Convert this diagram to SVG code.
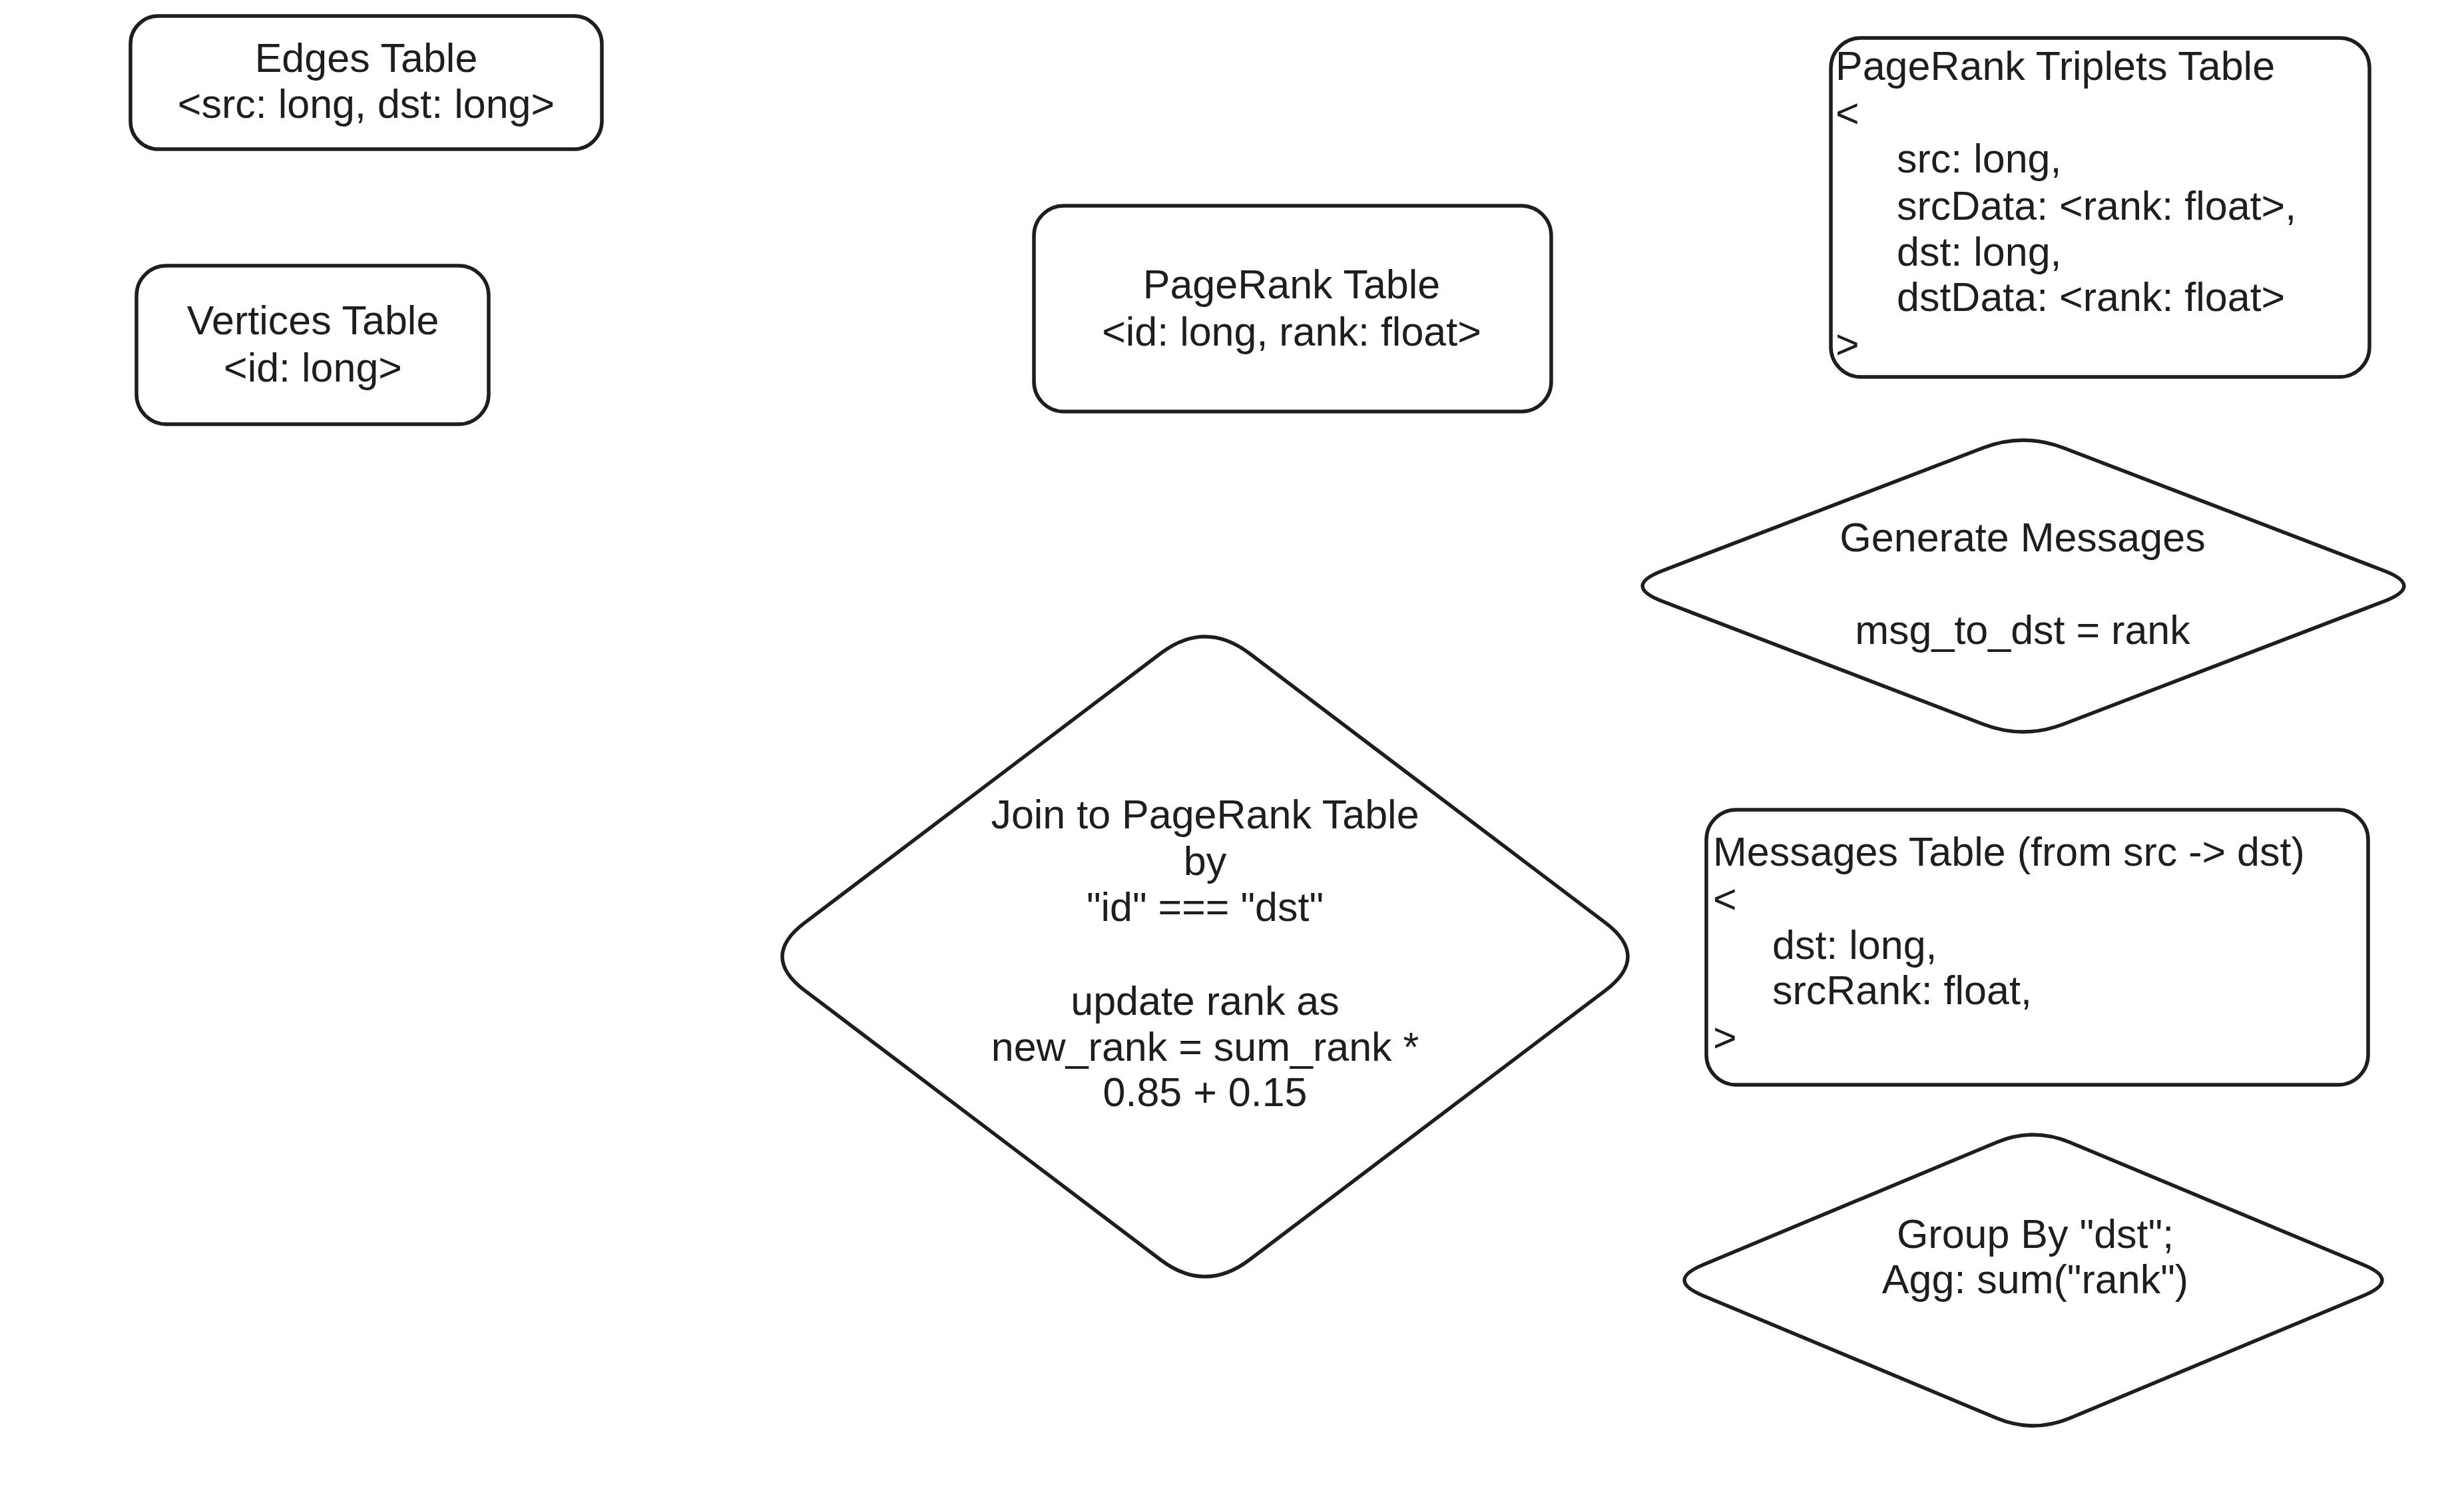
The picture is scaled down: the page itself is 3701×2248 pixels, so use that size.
<svg xmlns="http://www.w3.org/2000/svg" width="3701" height="2248" viewBox="0 0 3701 2248">
<style>
.shape{fill:#ffffff;stroke:#1e1e1e;stroke-width:5.5;stroke-linejoin:round;stroke-linecap:round}
.t{font-family:"Liberation Sans",Arial,sans-serif;font-size:61px;fill:#1e1e1e;dominant-baseline:central}
.c{text-anchor:middle}
</style>
<rect width="3701" height="2248" fill="#ffffff"/>
<g id="connectors"></g>
<g id="edges-table">
<rect class="shape" x="196" y="24" width="708" height="200" rx="42"/>
<text class="t c" x="550" y="87">Edges Table</text>
<text class="t c" x="550" y="156">&lt;src: long, dst: long&gt;</text>
</g>
<g id="vertices-table">
<rect class="shape" x="205" y="399" width="529" height="238" rx="45"/>
<text class="t c" x="470" y="481">Vertices Table</text>
<text class="t c" x="470" y="552">&lt;id: long&gt;</text>
</g>
<g id="pagerank-table">
<rect class="shape" x="1553" y="309" width="777" height="309" rx="45"/>
<text class="t c" x="1940" y="427">PageRank Table</text>
<text class="t c" x="1940" y="498">&lt;id: long, rank: float&gt;</text>
</g>
<g id="triplets-table">
<rect class="shape" x="2750" y="57" width="809" height="509" rx="45"/>
<text class="t" x="2757" y="99">PageRank Triplets Table</text>
<text class="t" x="2757" y="170">&lt;</text>
<text class="t" x="2849" y="238">src: long,</text>
<text class="t" x="2849" y="309">srcData: &lt;rank: float&gt;,</text>
<text class="t" x="2849" y="378">dst: long,</text>
<text class="t" x="2849" y="446">dstData: &lt;rank: float&gt;</text>
<text class="t" x="2757" y="517">&gt;</text>
</g>
<g id="generate-messages">
<path class="shape" d="M2497.2,856.95 L2978.8,672.55 Q3039,649.5 3099.2,672.55 L3580.8,856.95 Q3641,880 3580.8,903.05 L3099.2,1087.45 Q3039,1110.5 2978.8,1087.45 L2497.2,903.05 Q2437,880 2497.2,856.95 Z"/>
<text class="t c" x="3038" y="807">Generate Messages</text>
<text class="t c" x="3038" y="946">msg_to_dst = rank</text>
</g>
<g id="join-update">
<path class="shape" d="M1208.4,1385.9 L1743.2,981.3 Q1810,930.7 1876.8,981.3 L2411.6,1385.9 Q2478.4,1436.5 2411.6,1487.1 L1876.8,1891.7 Q1810,1942.3 1743.2,1891.7 L1208.4,1487.1 Q1141.6,1436.5 1208.4,1385.9 Z"/>
<text class="t c" x="1810" y="1223">Join to PageRank Table</text>
<text class="t c" x="1810" y="1293">by</text>
<text class="t c" x="1810" y="1362">"id" === "dst"</text>
<text class="t c" x="1810" y="1503">update rank as</text>
<text class="t c" x="1810" y="1572">new_rank = sum_rank *</text>
<text class="t c" x="1810" y="1640">0.85 + 0.15</text>
</g>
<g id="messages-table">
<rect class="shape" x="2563" y="1216" width="994" height="413" rx="45"/>
<text class="t" x="2573" y="1279">Messages Table (from src -&gt; dst)</text>
<text class="t" x="2573" y="1350">&lt;</text>
<text class="t" x="2662" y="1419">dst: long,</text>
<text class="t" x="2662" y="1487">srcRank: float,</text>
<text class="t" x="2573" y="1558">&gt;</text>
</g>
<g id="group-by">
<path class="shape" d="M2557.6,1899.5 L2998.8,1715.5 Q3054,1692.5 3109.2,1715.5 L3550.4,1899.5 Q3605.6,1922.5 3550.4,1945.5 L3109.2,2129.5 Q3054,2152.5 2998.8,2129.5 L2557.6,1945.5 Q2502.4,1922.5 2557.6,1899.5 Z"/>
<text class="t c" x="3057" y="1853">Group By "dst";</text>
<text class="t c" x="3057" y="1921">Agg: sum("rank")</text>
</g>
</svg>
